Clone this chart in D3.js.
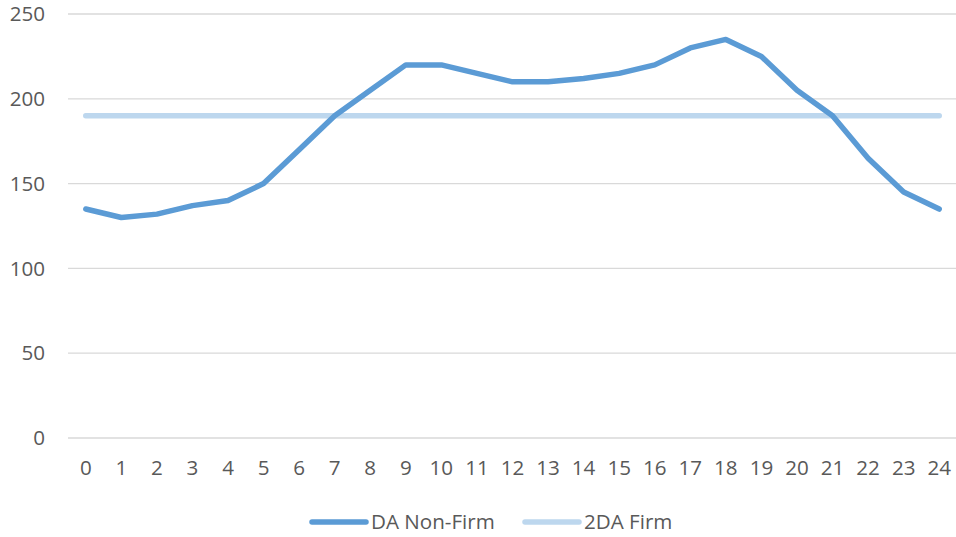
<!DOCTYPE html>
<html>
<head>
<meta charset="utf-8">
<script src="https://cdn.jsdelivr.net/npm/d3@7"></script>
<style>
  body { margin: 0; background: #fff; }
  svg text { font-family: "Open Sans", "Noto Sans", sans-serif; fill: #595959; }
</style>
</head>
<body>
<svg id="chart"></svg>
<script>
// hours 0..24
const hours = d3.range(0, 25)
const daNonFirm = [135, 130, 132, 137, 140, 150, 170, 190, 205, 220, 220, 215, 210,
                   210, 212, 215, 220, 230, 235, 225, 205, 190, 165, 145, 135]
const twoDaFirm = [190, 190, 190, 190, 190, 190, 190, 190, 190, 190, 190, 190, 190,
                   190, 190, 190, 190, 190, 190, 190, 190, 190, 190, 190, 190]
const yTicks = [0, 50, 100, 150, 200, 250]
const seriesNames = ["DA Non-Firm", "2DA Firm"]
const seriesColors = ["#5B9BD5", "#BDD7EE"]

const width = 956, height = 537
const margin = {top: 14, right: 0, bottom: 99, left: 68}
const fontSize = "20.6px"

const svg = d3.select("#chart")
              .attr("width", width)
              .attr("height", height)

const x = d3.scaleBand()
            .domain(hours)
            .range([margin.left, width - margin.right + 1])

const y = d3.scaleLinear()
            .domain([0, 250])
            .range([height - margin.bottom, margin.top])

// gridlines
svg.append("g")
   .selectAll("line")
   .data(yTicks)
   .join("line")
     .attr("x1", margin.left)
     .attr("x2", width)
     .attr("y1", d => y(d))
     .attr("y2", d => y(d))
     .attr("stroke", "#d9d9d9")
     .attr("stroke-width", 1.3)

// y labels
svg.append("g")
   .selectAll("text")
   .data(yTicks)
   .join("text")
     .attr("x", 45)
     .attr("y", d => y(d))
     .attr("dy", "0.35em")
     .attr("text-anchor", "end")
     .style("font-size", fontSize)
     .text(d => d)

// x labels
svg.append("g")
   .selectAll("text")
   .data(hours)
   .join("text")
     .attr("x", d => x(d) + x.bandwidth() / 2)
     .attr("y", 468)
     .attr("dy", "0.35em")
     .attr("text-anchor", "middle")
     .style("font-size", fontSize)
     .text(d => d)

const line = d3.line()
               .x((d, i) => x(hours[i]) + x.bandwidth() / 2)
               .y(d => y(d))

const allSeries = [daNonFirm, twoDaFirm]

// draw firm first so non-firm sits on top
svg.append("g")
   .selectAll("path")
   .data([1, 0])
   .join("path")
     .attr("d", i => line(allSeries[i]))
     .attr("fill", "none")
     .attr("stroke", i => seriesColors[i])
     .attr("stroke-width", 5.5)
     .attr("stroke-linejoin", "round")
     .attr("stroke-linecap", "round")

// legend
const legendX = [312, 525]
const legend = svg.append("g")
                  .selectAll("g")
                  .data(seriesNames)
                  .join("g")
                    .attr("transform", (d, i) => `translate(${legendX[i]},522)`)

legend.append("line")
      .attr("x1", 0)
      .attr("x2", 54)
      .attr("stroke", (d, i) => seriesColors[i])
      .attr("stroke-width", 5.5)
      .attr("stroke-linecap", "round")

legend.append("text")
      .attr("x", 59)
      .attr("dy", "0.35em")
      .style("font-size", fontSize)
      .text(d => d)
</script>
</body>
</html>
